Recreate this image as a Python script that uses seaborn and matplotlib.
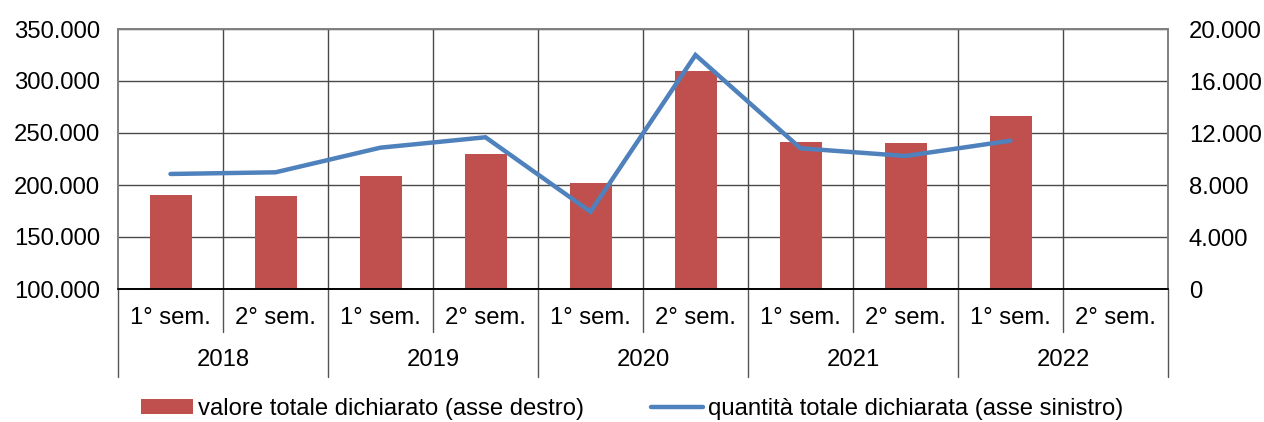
import numpy as np
import pandas as pd
import matplotlib
matplotlib.use("Agg")
import matplotlib.pyplot as plt
import matplotlib.transforms as mtransforms
from matplotlib.patches import Patch
from matplotlib.lines import Line2D
from matplotlib.ticker import FuncFormatter, MultipleLocator
import seaborn as sns

# Semesters and years
anni = ["2018", "2019", "2020", "2021", "2022"]
semestri = ["1° sem.", "2° sem."]
periodi = [f"{a} {s}" for a in anni for s in semestri]

# Total declared value (right axis) and total declared quantity (left axis)
valore = [7230, 7180, 8670, 10360, 8150, 16770, 11290, 11230, 13330, np.nan]
quantita = [210600, 212200, 235900, 245900, 174300, 325000, 235300, 227900, 242600, np.nan]

df = pd.DataFrame({"periodo": periodi, "valore": valore, "quantita": quantita})

FS = 17.2
sns.set_theme(style="white")
plt.rcParams["font.family"] = ["Liberation Sans", "DejaVu Sans"]
plt.rcParams["font.size"] = FS
plt.rcParams["text.color"] = "black"

W, H = 1264, 422
fig = plt.figure(figsize=(W / 100, H / 100), dpi=100)
x0, x1, y0, y1 = 118, 1168, 29, 289
ax = fig.add_axes([x0 / W, (H - y1) / H, (x1 - x0) / W, (y1 - y0) / H])
ax2 = ax.twinx()

RED = "#C0504D"
BLUE = "#4F81BD"
GRID = "#4a4a4a"

# Bars: value, on the right-hand scale
sns.barplot(data=df, x="periodo", y="valore", order=periodi, ax=ax,
            color=RED, width=0.4, saturation=1, edgecolor="none", linewidth=0)
ax.set_ylim(0, 20000)
ax.yaxis.set_major_locator(MultipleLocator(4000))
ax.yaxis.tick_right()
ax.set_xlim(-0.5, len(periodi) - 0.5)

# Line: quantity, on the left-hand scale
sns.lineplot(x=np.arange(len(periodi)), y=df["quantita"], ax=ax2, color=BLUE,
             linewidth=3.2, solid_capstyle="round", solid_joinstyle="miter")
ax2.set_ylim(100000, 350000)
ax2.yaxis.set_major_locator(MultipleLocator(50000))
ax2.yaxis.tick_left()
ax2.set_xlim(-0.5, len(periodi) - 0.5)

fmt = FuncFormatter(lambda v, _: f"{int(round(v)):,}".replace(",", "."))
ax.yaxis.set_major_formatter(fmt)
ax2.yaxis.set_major_formatter(fmt)

for a in (ax, ax2):
    a.set_xlabel("")
    a.set_ylabel("")
    a.tick_params(axis="y", length=0, labelsize=FS, colors="black")
    a.tick_params(axis="x", which="both", length=0, labelbottom=False)
    for s in ("top", "left", "right"):
        a.spines[s].set_color("#7f7f7f")
        a.spines[s].set_linewidth(1.2)
    a.spines["bottom"].set_color("black")
    a.spines["bottom"].set_linewidth(1.2)
ax.tick_params(axis="y", pad=15)
ax2.tick_params(axis="y", pad=13)

# Grid: horizontal at ticks, vertical between categories
ax.set_axisbelow(True)
ax.set_xticks(np.arange(0.5, len(periodi) - 1, 1), minor=True)
ax.grid(axis="y", which="major", color=GRID, linewidth=1)
ax.grid(axis="x", which="minor", color=GRID, linewidth=1)
ax.grid(axis="x", which="major", visible=False)

# Two-level category labels under the axis
trans = mtransforms.blended_transform_factory(ax.transData, ax.transAxes)
sem_bottom = -43 / 260
year_bottom = -88 / 260
for i, p in enumerate(periodi):
    ax.text(i, -29.5 / 260, p.split(" ", 1)[1], transform=trans,
            ha="center", va="center", fontsize=FS, color="black")
for j, a in enumerate(anni):
    ax.text(2 * j + 0.5, -71 / 260, a, transform=trans,
            ha="center", va="center", fontsize=FS, color="black")
for k in range(len(periodi) + 1):
    xb = k - 0.5
    bottom = year_bottom if k % 2 == 0 else sem_bottom
    ax.plot([xb, xb], [0, bottom], transform=trans, color="#555555",
            linewidth=1, clip_on=False)

handles = [
    Patch(facecolor=RED, edgecolor="none"),
    Line2D([], [], color=BLUE, linewidth=3.2, solid_capstyle="round"),
]
labels = ["valore totale dichiarato (asse destro)",
          "quantità totale dichiarata (asse sinistro)"]
fig.legend(handles, labels, loc="center", bbox_to_anchor=(0.5, (H - 409) / H),
           ncol=2, frameon=False, fontsize=FS, handlelength=2.2,
           handleheight=0.55, handletextpad=0.2, columnspacing=2.8,
           borderpad=0, labelcolor="black")

fig.savefig("out.png", dpi=100, facecolor="white")
